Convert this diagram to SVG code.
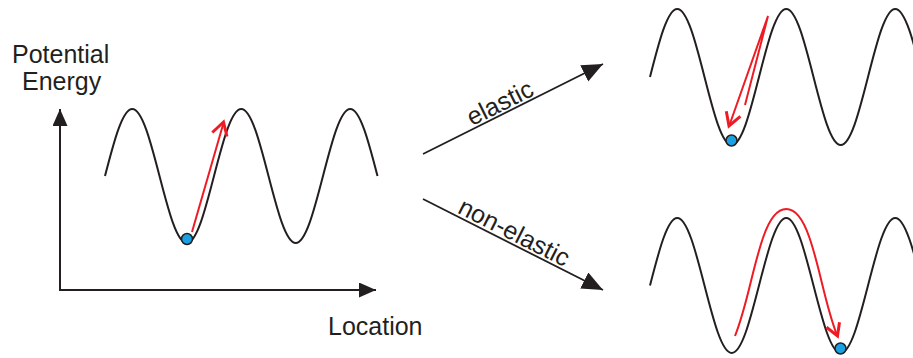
<svg xmlns="http://www.w3.org/2000/svg" width="913" height="358" viewBox="0 0 913 358">
<style>
.wave{fill:none;stroke:#231f20;stroke-width:2}
.ball{fill:#1ba1e2;stroke:#231f20;stroke-width:1.5}
.red{fill:none;stroke:#ed1c24;stroke-width:2}
.redhead{fill:none;stroke:#ed1c24;stroke-width:3;stroke-linejoin:miter}
.lbl{font-family:"Liberation Sans",Arial,sans-serif;font-size:25px;fill:#231f20}
.conn{fill:none;stroke:#231f20;stroke-width:1.8}
.axis{fill:none;stroke:#231f20;stroke-width:2}
</style>
<defs>
<marker id="bigHead" markerUnits="userSpaceOnUse" markerWidth="22" markerHeight="20" refX="21" refY="9" orient="auto">
<path d="M0,0 L21,9 L0,18 Z" fill="#231f20"/>
</marker>
<marker id="axisHead" markerUnits="userSpaceOnUse" markerWidth="18" markerHeight="16" refX="17" refY="7.5" orient="auto-start-reverse">
<path d="M0,0 L17,7.5 L0,15 Z" fill="#231f20"/>
</marker>
</defs>
<rect width="913" height="358" fill="#ffffff"/>

<g id="axes">
<path class="axis" d="M60,109 L60,290 L376,290" marker-start="url(#axisHead)" marker-end="url(#axisHead)"/>
<text class="lbl" x="12" y="63">Potential</text>
<text class="lbl" x="22" y="90">Energy</text>
<text class="lbl" x="328" y="335">Location</text>
</g>

<g id="initial-state">
<path class="wave" d="M105,176 c8.89,-34.32 17.39,-67 27.25,-67 s18.36,32.68 27.25,67 s17.39,67 27.25,67 s18.36,-32.68 27.25,-67 s17.39,-67 27.25,-67 s18.36,32.68 27.25,67 s17.39,67 27.25,67 s18.36,-32.68 27.25,-67 s17.39,-67 27.25,-67 s18.36,32.68 27.25,67"/>
<path class="red" d="M192,232 L223.5,123"/>
<path class="redhead" d="M212.3,132.5 L223.5,122 L227,136.5"/>
<circle class="ball" cx="187" cy="239" r="5.5"/>
</g>

<g id="elastic-state">
<path class="wave" d="M650,77 c8.89,-34.84 17.39,-68 27.25,-68 s18.36,33.16 27.25,68 s17.39,68 27.25,68 s18.36,-33.16 27.25,-68 s17.39,-68 27.25,-68 s18.36,33.16 27.25,68 s17.39,68 27.25,68 s18.36,-33.16 27.25,-68 s17.39,-68 27.25,-68 s18.36,33.16 27.25,68"/>
<path class="red" d="M745,105 L768,16 L729.5,125"/>
<path class="redhead" d="M740.4,116.3 L729,126 L726.3,111.2"/>
<circle class="ball" cx="731.5" cy="140.5" r="5.5"/>
</g>

<g id="non-elastic-state">
<path class="wave" d="M650,285.5 c8.89,-34.58 17.39,-67.5 27.25,-67.5 s18.36,32.92 27.25,67.5 s17.39,67.5 27.25,67.5 s18.36,-32.92 27.25,-67.5 s17.39,-67.5 27.25,-67.5 s18.36,32.92 27.25,67.5 s17.39,67.5 27.25,67.5 s18.36,-32.92 27.25,-67.5 s17.39,-67.5 27.25,-67.5 s18.36,32.92 27.25,67.5"/>
<path class="red" d="M735,336 C747.5,304.4 752.1,269.1 763.3,237 C766.6,227.5 774.25,209 786.25,209 C798.25,209 805.9,227.5 809.2,237 C820.4,269.1 825,304.4 837,335"/>
<path class="redhead" d="M839.5,322.2 L837.5,336 L826.5,327.3"/>
<circle class="ball" cx="840.5" cy="348.5" r="5.5"/>
</g>

<g id="connectors">
<path class="conn" d="M423,154 L603,64" marker-end="url(#bigHead)"/>
<path class="conn" d="M423,199 L603,290" marker-end="url(#bigHead)"/>
<text class="lbl" transform="translate(505,113.2) rotate(-26.57)" x="0" y="-3" text-anchor="middle">elastic</text>
<text class="lbl" transform="translate(509,242.5) rotate(26.82)" x="0" y="-3" text-anchor="middle">non-elastic</text>
</g>
</svg>
